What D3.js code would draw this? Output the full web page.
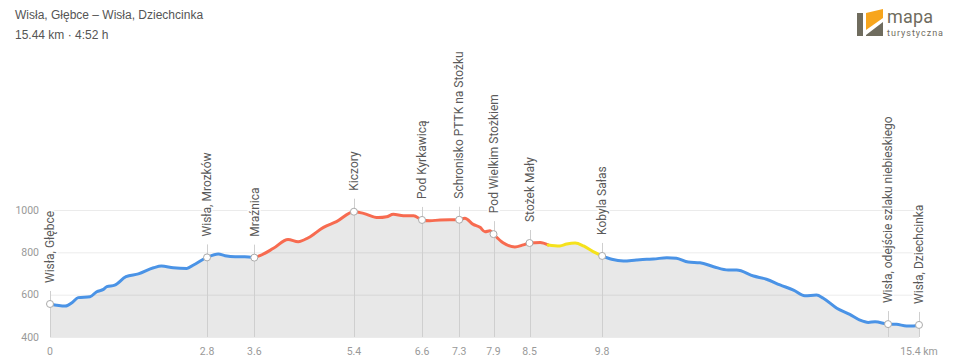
<!DOCTYPE html>
<html>
<head>
<meta charset="utf-8">
<title>Wisła, Głębce – Wisła, Dziechcinka</title>
<script src="https://d3js.org/d3.v7.min.js"></script>
<style>
  body { margin: 0; background: #fff; font-family: Roboto, "Liberation Sans", sans-serif; }
  svg { display: block; }
</style>
</head>
<body>
<div id="chart"></div>
<script>
// Profile of the route: distance in km, elevation in m
const profileKm = [0, 0.27, 0.39, 0.50, 0.71, 0.83, 0.95, 1.01, 1.15, 1.35, 1.57, 1.84, 1.98, 2.19, 2.43, 2.55, 2.79,
  2.99, 3.11, 3.29, 3.46, 3.63, 3.73, 3.97, 4.23, 4.41, 4.59, 4.86, 5.09, 5.40, 5.57, 5.83, 5.98, 6.10, 6.28, 6.46,
  6.61, 6.75, 6.93, 7.27, 7.37, 7.52, 7.64, 7.73, 7.82, 7.88, 8.05, 8.26, 8.41, 8.52, 8.71, 8.85, 9.06, 9.18, 9.33,
  9.48, 9.65, 9.81, 9.98, 10.19, 10.42, 10.60, 10.72, 10.96, 11.13, 11.34, 11.55, 11.79, 12.05, 12.20, 12.50, 12.73,
  12.97, 13.21, 13.41, 13.62, 13.74, 13.98, 14.21, 14.39, 14.54, 14.66, 14.89, 15.04, 15.22, 15.34, 15.44];
const profileEle = [556, 546, 562, 586, 590, 614, 625, 638, 645, 685, 698, 727, 735, 727, 724, 740, 776,
  792, 784, 779, 779, 775, 784, 819, 861, 850, 869, 918, 945, 992, 984, 964, 968, 980, 973, 973,
  953, 949, 953, 954, 961, 932, 918, 897, 902, 886, 845, 825, 835, 844, 847, 835, 830, 839, 844,
  830, 803, 783, 767, 759, 764, 767, 768, 775, 772, 754, 751, 732, 716, 716, 688, 673,
  646, 622, 595, 598, 583, 536, 507, 480, 469, 472, 461, 460, 452, 452, 457];

// Coloured sections of the route
const segmentEnds = [3.63, 8.85, 9.81, 15.44];
const segmentColors = ["#4a93e6", "#f76b50", "#f5e21c", "#4a93e6"];

// Waypoints
const waypointNames = ["Wisła, Głębce", "Wisła, Mrozków", "Mraźnica", "Kiczory", "Pod Kyrkawicą",
  "Schronisko PTTK na Stożku", "Pod Wielkim Stożkiem", "Stożek Mały", "Kobyla Sałas",
  "Wisła, odejście szlaku niebieskiego", "Wisła, Dziechcinka"];
const waypointKm = [0, 2.79, 3.63, 5.40, 6.61, 7.27, 7.88, 8.52, 9.81, 14.89, 15.44];
const xTickLabels = ["0", "2.8", "3.6", "5.4", "6.6", "7.3", "7.9", "8.5", "9.8", "", "15.4 km"];
const yTicks = [400, 600, 800, 1000];

const width = 960, height = 362;
const plotLeft = 50, plotRight = 919, plotBottom = 337, plotTop = 210;

const svg = d3.select("#chart").append("svg")
  .attr("width", width)
  .attr("height", height);

const x = d3.scaleLinear().domain([0, 15.44]).range([plotLeft, plotRight]);
const y = d3.scaleLinear().domain([400, 1000]).range([plotBottom, plotTop]);

const points = profileKm.map((k, i) => [k, profileEle[i]]);

// Title
svg.append("text").attr("x", 15).attr("y", 19)
  .attr("font-family", "'Liberation Sans', Arial, sans-serif")
  .attr("font-size", 12).attr("fill", "#555")
  .text("Wisła, Głębce – Wisła, Dziechcinka");
svg.append("text").attr("x", 15).attr("y", 39)
  .attr("font-family", "'Liberation Sans', Arial, sans-serif")
  .attr("font-size", 12).attr("fill", "#555")
  .text("15.44 km · 4:52 h");

// Logo
const logo = svg.append("g");
logo.append("path").attr("fill", "#6f6c5e")
  .attr("d", "M857,13 L863,13 L863,36 L857,36 Z M866,35 L883,22 L883,36 L866,36 Z");
logo.append("path").attr("fill", "#f7a51c")
  .attr("d", "M866,13 L883,9 L883,18 L866,30 Z");
logo.append("text").attr("x", 887).attr("y", 22.5)
  .attr("font-size", 18).attr("fill", "#6f6c5e")
  .attr("textLength", 46).attr("lengthAdjust", "spacing")
  .text("mapa");
logo.append("text").attr("x", 887).attr("y", 36)
  .attr("font-size", 9).attr("fill", "#6f6c5e")
  .attr("textLength", 56).attr("lengthAdjust", "spacing")
  .text("turystyczna");

// Area under the profile
const area = d3.area().x(d => x(d[0])).y0(plotBottom).y1(d => y(d[1]));
svg.append("path").datum(points)
  .attr("fill", "#e8e8e8")
  .attr("d", area);

// Grid
svg.selectAll("line.grid").data(yTicks).enter().append("line")
  .attr("class", "grid")
  .attr("x1", plotLeft).attr("x2", plotRight)
  .attr("y1", d => y(d) + 0.5).attr("y2", d => y(d) + 0.5)
  .attr("stroke", "rgba(0,0,0,0.08)");

svg.selectAll("text.ytick").data(yTicks).enter().append("text")
  .attr("class", "ytick")
  .attr("x", 39).attr("y", d => y(d)).attr("dy", "0.35em")
  .attr("text-anchor", "end")
  .attr("font-size", 10.5).attr("fill", "#999")
  .text(d => d);

// Waypoint elevations, taken from the profile
const wpEle = waypointKm.map(k => profileEle[profileKm.indexOf(k)]);

// Waypoint guide lines
svg.selectAll("line.wp").data(waypointKm).enter().append("line")
  .attr("class", "wp")
  .attr("x1", d => Math.round(x(d)) + 0.5).attr("x2", d => Math.round(x(d)) + 0.5)
  .attr("y1", (d, i) => y(wpEle[i]) - 13).attr("y2", plotBottom)
  .attr("stroke", "#cfcfcf");

// Coloured line sections
const line = d3.line().x(d => x(d[0])).y(d => y(d[1])).curve(d3.curveMonotoneX);
let start = 0;
segmentEnds.forEach((end, i) => {
  const seg = points.filter(p => p[0] >= start && p[0] <= end);
  svg.append("path").datum(seg)
    .attr("fill", "none")
    .attr("stroke", segmentColors[i])
    .attr("stroke-width", 3)
    .attr("stroke-linejoin", "round")
    .attr("stroke-linecap", "round")
    .attr("d", line);
  start = end;
});

// Markers
svg.selectAll("circle.wp").data(waypointKm).enter().append("circle")
  .attr("class", "wp")
  .attr("cx", d => x(d)).attr("cy", (d, i) => y(wpEle[i]))
  .attr("r", 3.5)
  .attr("fill", "#fff").attr("stroke", "#aaa").attr("stroke-width", 1);

// Waypoint names, clipped at the top of the chart
svg.append("clipPath").attr("id", "labelClip")
  .append("rect").attr("x", 0).attr("y", 47).attr("width", width).attr("height", height);

svg.append("g").attr("clip-path", "url(#labelClip)")
  .selectAll("text").data(waypointNames).enter().append("text")
  .attr("transform", (d, i) => "translate(" + x(waypointKm[i]) + "," + (y(wpEle[i]) - 21) + ") rotate(-90)")
  .attr("dy", "0.35em")
  .attr("font-size", 12).attr("fill", "#5a5a5a")
  .attr("stroke", "#fff").attr("stroke-width", 3).attr("paint-order", "stroke")
  .text(d => d);

// Distance ticks
svg.selectAll("text.xtick").data(xTickLabels).enter().append("text")
  .attr("class", "xtick")
  .attr("x", (d, i) => x(waypointKm[i])).attr("y", 355)
  .attr("text-anchor", "middle")
  .attr("font-size", 10.5).attr("fill", "#999")
  .text(d => d);
</script>
</body>
</html>
